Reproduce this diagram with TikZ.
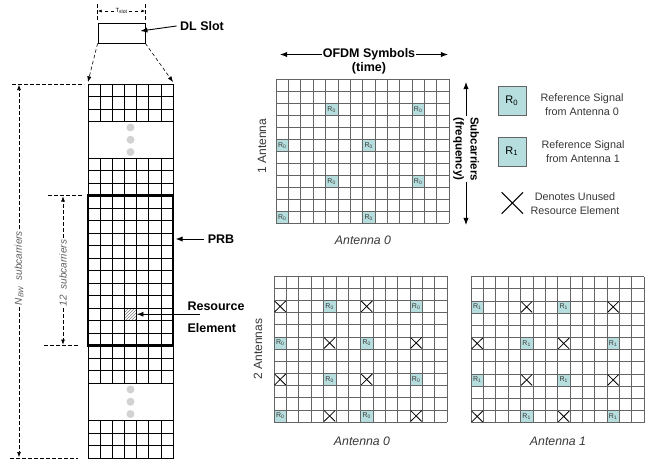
\documentclass[tikz,border=0pt]{standalone}
\usepackage{fontspec}
\setmainfont{Liberation Sans}
\usepackage{xcolor}
\usepackage{tikz}
\usetikzlibrary{patterns,arrows.meta,positioning}
\definecolor{rsteal}{RGB}{183,222,222}
\definecolor{gridgray}{RGB}{100,100,100}
\definecolor{txtgray}{RGB}{55,55,55}
\definecolor{dimgray}{RGB}{95,95,95}
\newcommand{\rsA}{4/2,11/2,0/5,7/5,4/8,11/8,0/11,7/11}
\newcommand{\rsB}{0/2,7/2,4/5,11/5,0/8,7/8,4/11,11/11}
\tikzset{
  gridln/.style={gridgray,line width=0.5pt},
  colln/.style={black,line width=0.7pt},
  rscell/.style={draw=gridgray,fill=rsteal,line width=0.5pt,inner sep=0pt,
    minimum width=12.3pt,minimum height=12.1pt,text=txtgray,
    font=\fontsize{7}{7}\selectfont},
  unused/.style={black,line width=0.8pt},
  dimln/.style={dash pattern=on 3.5pt off 2.5pt,line width=0.6pt},
  boldlbl/.style={font=\bfseries\fontsize{12.5}{14}\selectfont},
  sidelbl/.style={rotate=90,text=txtgray,font=\fontsize{12}{14}\selectfont},
  antlbl/.style={text=txtgray,font=\itshape\fontsize{12.3}{14}\selectfont},
  leglbl/.style={text=txtgray,align=center,font=\fontsize{10.8}{13.5}\selectfont},
  spanlbl/.style={rotate=90,fill=white,inner sep=2pt,text=dimgray,
    font=\itshape\fontsize{10}{12}\selectfont},
}

\begin{document}
\begin{tikzpicture}[x=1pt,y=-1pt,>=Latex]
  \useasboundingbox (0,0) rectangle (660,464);
  % DL slot and its length
  \node[draw,line width=0.8pt,minimum width=47pt,minimum height=20pt,inner sep=0pt] (slot) at (121.5,33) {};
  \node[inner sep=1pt,font=\fontsize{6}{6}\selectfont] (tslot) at (121.5,11) {T\textsubscript{slot}};
  \coordinate (tsL) at (98,11);
  \coordinate (tsR) at (145,11);
  \draw[dimln] ([yshift=3pt]slot.north west) -- ([yshift=20pt]slot.north west);
  \draw[dimln] ([yshift=3pt]slot.north east) -- ([yshift=20pt]slot.north east);
  \draw[dimln,-{Latex[length=3.5pt,width=3pt]}] (tslot) -- (tsL);
  \draw[dimln,-{Latex[length=3.5pt,width=3pt]}] (tslot) -- (tsR);
  \node[boldlbl] (dltxt) at (202,26) {DL Slot};
  \draw[->,line width=0.9pt] (dltxt.west) -- ([xshift=-5pt,yshift=2pt]slot.east);

  % Resource grid of the slot
  \draw[colln] (88,84) rectangle (173,458);
  \foreach \ya/\n in {84/3,158/18,420.5/3} {
    \foreach \k in {1,...,6}
      \draw[colln] (88+12.143*\k,\ya) -- (88+12.143*\k,\ya+12.5*\n);
    \foreach \r in {0,...,\n}
      \draw[colln] (88,\ya+12.5*\r) -- (173,\ya+12.5*\r);
  }
  \foreach \yc in {139.75,401.75}
    \foreach \d in {-12.3,0,12.3}
      \fill[gray!35] (130.5,\yc+\d) circle (4pt);
  \coordinate (colTL) at (88,82);
  \coordinate (colTR) at (173,82);
  \draw[dimln,->] (slot.south west) -- (colTL);
  \draw[dimln,->] (slot.south east) -- (colTR);

  % PRB and one resource element
  \node[draw,line width=2.4pt,inner sep=0pt,minimum width=85pt,minimum height=150pt] (prb) at (130.5,270.5) {};
  \node[draw,line width=0.5pt,pattern=north east lines,pattern color=gray,inner sep=0pt,
    minimum width=12.1pt,minimum height=12.5pt] (re) at (130.5,314.25) {};
  \node[boldlbl] (prbtxt) at (221,239) {PRB};
  \draw[->,line width=0.9pt,shorten >=1.4pt] (prbtxt.west) -- (prbtxt.west -| prb.east);
  \node[align=left,anchor=west,font=\bfseries\fontsize{12.5}{22}\selectfont] (retxt) at (184,317) {Resource\\Element};
  \coordinate (reTail) at (200,314.25);
  \draw[->,line width=0.8pt] (reTail) -- (re.east);

  % N_BW and 12 subcarrier spans
  \draw[dimln] (12,84) -- (84,84);
  \draw[dimln] (10,458) -- (78,458);
  \node[spanlbl] (nbw) at (19,268) {N\textsubscript{BW}\ \ subcarriers};
  \coordinate (nbwT) at (19,85);
  \coordinate (nbwB) at (19,457);
  \draw[dimln,-{Latex[length=5pt,width=4pt]}] (nbw) -- (nbwT);
  \draw[dimln,-{Latex[length=5pt,width=4pt]}] (nbw) -- (nbwB);
  \draw[dimln] (48,195.5) -- (82,195.5);
  \draw[dimln] (44,345.5) -- (78,345.5);
  \node[spanlbl] (twelve) at (63,273) {12\ \ subcarriers};
  \coordinate (twT) at (63,196.5);
  \coordinate (twB) at (63,344.5);
  \draw[dimln,-{Latex[length=5pt,width=4pt]}] (twelve) -- (twT);
  \draw[dimln,-{Latex[length=5pt,width=4pt]}] (twelve) -- (twB);

  % Axes of the RS grids
  \node[boldlbl,fill=white,inner sep=1pt] (ofdm) at (369,54.5) {OFDM Symbols};
  \node[boldlbl,below=0pt of ofdm,inner sep=1pt] (time) {(time)};
  \coordinate (ofdmL) at (280,54.5);
  \coordinate (ofdmR) at (448,54.5);
  \draw[->,line width=0.9pt] (ofdm) -- (ofdmL);
  \draw[->,line width=0.9pt] (ofdm) -- (ofdmR);
  \node[rotate=-90,align=center,fill=white,inner sep=1pt,
    font=\bfseries\fontsize{11.5}{15}\selectfont] (subc) at (466,149) {Subcarriers\\(frequency)};
  \coordinate (subT) at (466,82);
  \coordinate (subB) at (466,225);
  \draw[->,line width=0.9pt] (subc) -- (subT);
  \draw[->,line width=0.9pt] (subc) -- (subB);
  \node[sidelbl] (lbl1ant) at (262,146) {1 Antenna};
  \node[sidelbl] (lbl2ant) at (258,349) {2 Antennas};

  % 1 antenna
  \begin{scope}[shift={(276,79.3)},x=12.36pt,y=-12pt]
    \foreach \c in {0,...,14} \draw[gridln] (\c,0) -- (\c,12);
    \foreach \r in {0,...,12} \draw[gridln] (0,\r) -- (14,\r);
    \foreach \c/\r in \rsA
      \node[rscell] (one-\c-\r) at (\c+.5,\r+.5) {R\textsubscript{0}};
  \end{scope}
  \node[antlbl] (ant0top) at (363,240) {Antenna 0};

  % 2 antennas, antenna 0
  \begin{scope}[shift={(274,276)},x=12.36pt,y=-12.17pt]
    \foreach \c in {0,...,14} \draw[gridln] (\c,0) -- (\c,12);
    \foreach \r in {0,...,12} \draw[gridln] (0,\r) -- (14,\r);
    \foreach \c/\r in \rsA
      \node[rscell] (twoa-\c-\r) at (\c+.5,\r+.5) {R\textsubscript{0}};
    \foreach \c/\r in \rsB
      \draw[unused] (\c+.05,\r+.05) -- (\c+.95,\r+.95) (\c+.95,\r+.05) -- (\c+.05,\r+.95);
  \end{scope}
  \node[antlbl] (ant0bot) at (362,441) {Antenna 0};

  % 2 antennas, antenna 1
  \begin{scope}[shift={(471,276.5)},x=12.36pt,y=-12.17pt]
    \foreach \c in {0,...,14} \draw[gridln] (\c,0) -- (\c,12);
    \foreach \r in {0,...,12} \draw[gridln] (0,\r) -- (14,\r);
    \foreach \c/\r in \rsB
      \node[rscell] (twob-\c-\r) at (\c+.5,\r+.5) {R\textsubscript{1}};
    \foreach \c/\r in \rsA
      \draw[unused] (\c+.05,\r+.05) -- (\c+.95,\r+.95) (\c+.95,\r+.05) -- (\c+.05,\r+.95);
  \end{scope}
  \node[antlbl] (ant1bot) at (558,441) {Antenna 1};

  % Legend
  \node[draw=gridgray,fill=rsteal,minimum width=28pt,minimum height=29pt,inner sep=0pt,
    font=\fontsize{11}{11}\selectfont] (leg0) at (511.7,100.5) {R\textsubscript{0}};
  \node[draw=gridgray,fill=rsteal,minimum width=28pt,minimum height=29pt,inner sep=0pt,
    font=\fontsize{11}{11}\selectfont] (leg1) at (511.7,151.3) {R\textsubscript{1}};
  \node[leglbl] (leg0txt) at (582,104.5) {Reference Signal\\from Antenna 0};
  \node[leglbl] (leg1txt) at (583,151.5) {Reference Signal\\from Antenna 1};
  \node[minimum size=21pt,inner sep=0pt] (legx) at (512.3,203) {};
  \draw[unused,line width=1pt] (legx.north west) -- (legx.south east)
    (legx.north east) -- (legx.south west);
  \node[leglbl] (legxtxt) at (575,203.5) {Denotes Unused\\Resource Element};
\end{tikzpicture}
\end{document}
